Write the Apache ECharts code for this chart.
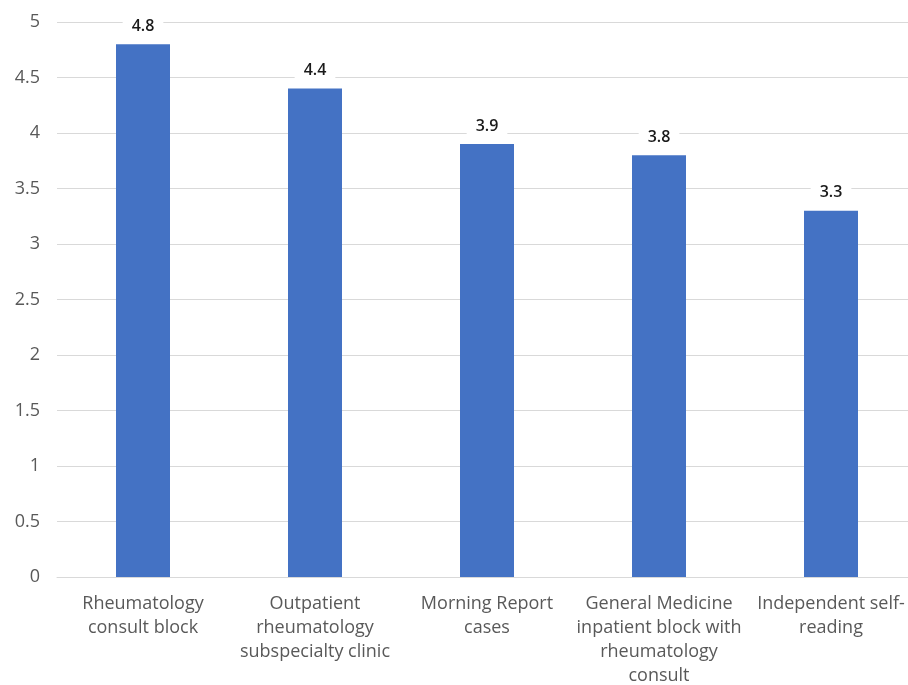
<!DOCTYPE html>
<html><head><meta charset="utf-8">
<script src="https://cdn.jsdelivr.net/npm/echarts@6/dist/echarts.min.js"></script>
<style>html,body{margin:0;padding:0;background:#fff}#c{width:908px;height:685px}</style>
</head><body><div id="c"></div>
<script>
const categories = [
  "Rheumatology\nconsult block",
  "Outpatient\nrheumatology\nsubspecialty clinic",
  "Morning Report\ncases",
  "General Medicine\ninpatient block with\nrheumatology\nconsult",
  "Independent self-\nreading"
];
const values = [4.8, 4.4, 3.9, 3.8, 3.3];
const yTicks = { min: 0, max: 5, interval: 0.5 };

const chart = echarts.init(document.getElementById('c'), null, {renderer: 'canvas'});
chart.setOption({
  animation: false,
  grid: { left: 57, width: 860, top: 22, height: 555, containLabel: false, outerBoundsMode: 'none' },
  xAxis: {
    type: 'category',
    data: categories,
    axisLine: { show: true, lineStyle: { color: '#d9d9d9', width: 1 } },
    axisTick: { show: false },
    axisLabel: { interval: 0, color: '#595959', fontFamily: 'Open Sans', fontSize: 18, lineHeight: 24, margin: 15 }
  },
  yAxis: {
    type: 'value',
    min: yTicks.min, max: yTicks.max, interval: yTicks.interval,
    axisLine: { show: false },
    axisTick: { show: false },
    splitLine: { lineStyle: { color: '#d9d9d9', width: 1 } },
    axisLabel: { color: '#595959', fontFamily: 'Open Sans', fontSize: 18, margin: 17 }
  },
  series: [{
    type: 'bar',
    data: values,
    barWidth: 54,
    itemStyle: { color: '#4472C4' },
    label: {
      show: true, position: 'top', distance: 8,
      color: '#1a1a1a', fontFamily: 'Open Sans', fontSize: 16, fontWeight: 600,
      backgroundColor: '#fff', padding: [2, 9]
    }
  }]
});
</script></body></html>
